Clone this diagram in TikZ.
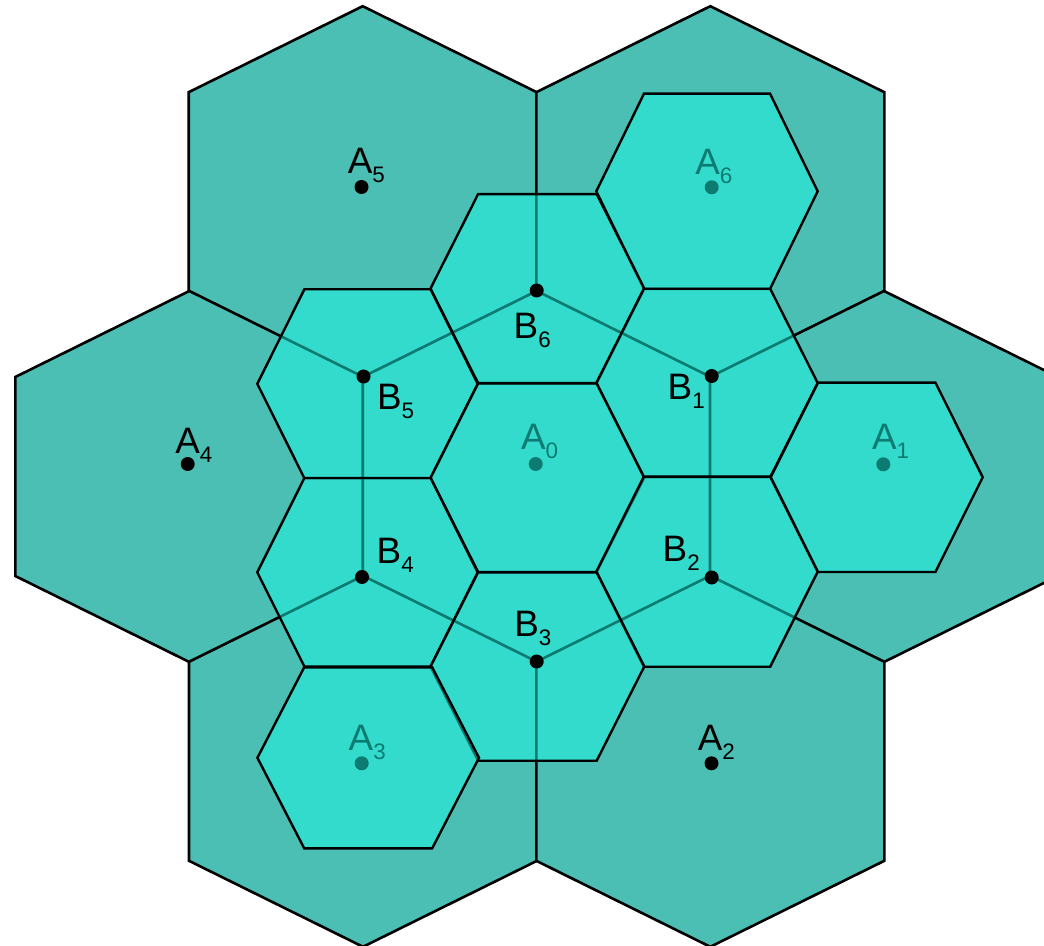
\documentclass[tikz,border=0pt]{standalone}
\usepackage{fontspec}
\setmainfont{Liberation Sans}
\usetikzlibrary{calc}
\definecolor{cellteal}{HTML}{4CBFB4}
\definecolor{cellcyan}{HTML}{1AF7E4}
\newcommand\lblsub[1]{\raisebox{-4.5pt}{\fontsize{11.2}{12}\selectfont #1}}

\begin{document}
\begin{tikzpicture}[x=0.5pt, y=-0.5pt,
    bigcell/.style={fill=cellteal, draw=black, line width=1.3pt},
    smallcell/.style={fill=cellcyan, fill opacity=0.5, draw=black, line width=1.2pt},
    site/.style={circle, fill=black, inner sep=0pt, minimum size=7pt},
    sitelabel/.style={anchor=base west, inner sep=0pt, font=\fontsize{18.4}{22}\selectfont},
  ]
  \useasboundingbox (0,0) rectangle (1044,946);
  \clip (0,0) rectangle (1044,946);

  % large cells
  \foreach \cx/\cy in {362.7/191.7, 710.3/191.7, 189.3/476.5, 536.7/476.5, 884/476.5, 363/761.3, 710.3/761.3}
    \draw[bigcell] (\cx,\cy) ++(0,-185.5) -- ++(174,86) -- ++(0,199) -- ++(-174,86) -- ++(-174,-86) -- ++(0,-199) -- cycle;

  % A sites
  \node[site] (A0) at (535.7,464) {};
  \node[site] (A1) at (883.3,464.3) {};
  \node[site] (A2) at (711.5,763.3) {};
  \node[site] (A3) at (361.7,763.3) {};
  \node[site] (A4) at (187.7,464) {};
  \node[site] (A5) at (361.5,187) {};
  \node[site] (A6) at (711.7,187.3) {};
  \node[sitelabel] (lA0) at (520.7,450) {A\lblsub{0}};
  \node[sitelabel] (lA1) at (871.7,450) {A\lblsub{1}};
  \node[sitelabel] (lA2) at (697.5,750) {A\lblsub{2}};
  \node[sitelabel] (lA3) at (348.3,750.7) {A\lblsub{3}};
  \node[sitelabel] (lA4) at (175,453.3) {A\lblsub{4}};
  \node[sitelabel] (lA5) at (347.5,174) {A\lblsub{5}};
  \node[sitelabel] (lA6) at (695,175) {A\lblsub{6}};

  % small cells
  \foreach \cx/\cy/\w/\e/\h in {707/191.3/110.7/63/97.7, 537.4/288.6/106.9/59.3/94.5,
      367.5/383.8/110.2/63.1/94.5, 707/383/110.7/63.2/94.2, 537.4/477.7/106.9/59.3/94.3,
      876.7/477.3/106/58.7/94.7, 367.5/572.3/110.2/63.1/94.3, 707/571.7/110.7/63.2/95,
      537.4/666.5/106.9/59.3/94.2, 368.2/757.8/110.8/64/90.5}
    \draw[smallcell] (\cx-\w,\cy) -- (\cx-\e,\cy-\h) -- (\cx+\e,\cy-\h) -- (\cx+\w,\cy)
      -- (\cx+\e,\cy+\h) -- (\cx-\e,\cy+\h) -- cycle;

  % B sites, corners of the central large cell
  \node[site] (B1) at (711.7,376) {};
  \node[site] (B2) at (711.7,577.5) {};
  \node[site] (B3) at (536.7,661.5) {};
  \node[site] (B4) at (362,577) {};
  \node[site] (B5) at (363.5,376.5) {};
  \node[site] (B6) at (536.7,290.5) {};
  \node[sitelabel] (lB1) at (667.3,399.3) {B\lblsub{1}};
  \node[sitelabel] (lB2) at (662.3,561) {B\lblsub{2}};
  \node[sitelabel] (lB3) at (514,636.7) {B\lblsub{3}};
  \node[sitelabel] (lB4) at (376.3,563) {B\lblsub{4}};
  \node[sitelabel] (lB5) at (376.6,410) {B\lblsub{5}};
  \node[sitelabel] (lB6) at (513.3,339) {B\lblsub{6}};
\end{tikzpicture}
\end{document}
